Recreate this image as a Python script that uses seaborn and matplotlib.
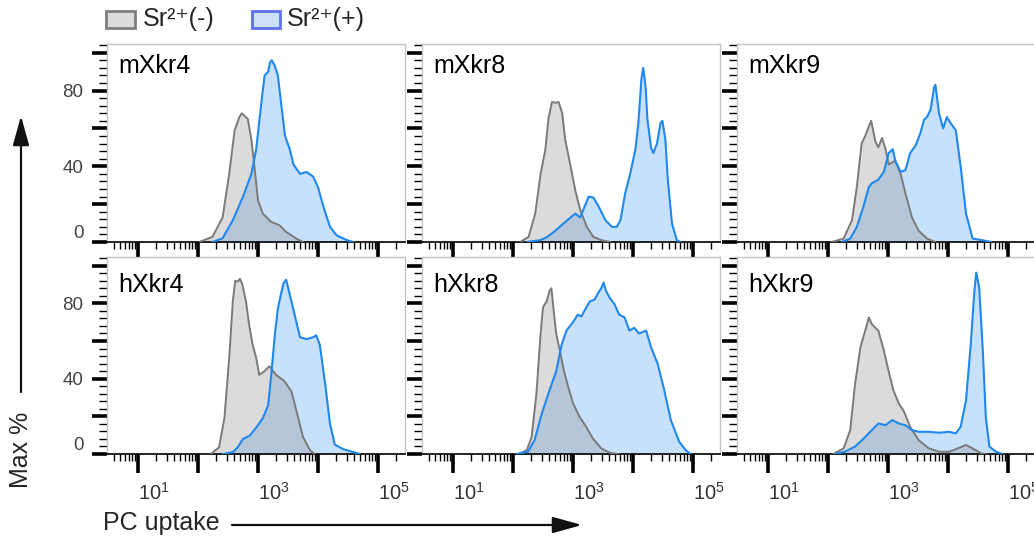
import numpy as np
import matplotlib
matplotlib.use("Agg")
import matplotlib.pyplot as plt
import seaborn as sns
from matplotlib.patches import Rectangle, FancyArrowPatch
from matplotlib.ticker import FixedLocator, LogLocator, MultipleLocator, NullFormatter

# ---------------- data (log10 PC uptake, Max %) ----------------
panel_names = ["mXkr4", "mXkr8", "mXkr9", "hXkr4", "hXkr8", "hXkr9"]
legend_labels = ["Sr\u00b2\u207a(-)", "Sr\u00b2\u207a(+)"]
x_tick_values = [1e1, 1e2, 1e3, 1e4, 1e5]
x_tick_labels = ["$10^{1}$", "", "$10^{3}$", "", "$10^{5}$"]
y_tick_values = [0, 20, 40, 60, 80, 100]
y_tick_labels = ["0", "", "40", "", "80", ""]

mxkr4_neg_lx = [2.02, 2.24, 2.41, 2.52, 2.61, 2.69, 2.73, 2.83, 2.89, 2.94, 3.00, 3.08, 3.22, 3.36, 3.47, 3.64, 3.75]
mxkr4_neg_y = [0, 2.7, 13, 36, 59, 66, 68, 65, 54, 40, 22, 15, 10.6, 8.8, 5.3, 1.8, 0]
mxkr4_pos_lx = [2.24, 2.41, 2.58, 2.75, 2.89, 2.97, 3.05, 3.11, 3.17, 3.20, 3.23, 3.28, 3.33, 3.39, 3.45, 3.53,
                3.59, 3.70, 3.81, 3.92, 4.00, 4.09, 4.20, 4.31, 4.48, 4.59]
mxkr4_pos_y = [0, 2, 11.5, 24, 36, 49, 72, 88, 90, 95, 96, 93, 88, 72, 56, 49, 41, 36, 37, 34.5, 29, 18.6, 8,
               3.5, 1, 0]

mxkr8_neg_lx = [2.12, 2.26, 2.37, 2.46, 2.54, 2.59, 2.65, 2.71, 2.76, 2.82, 2.87, 2.96, 3.04, 3.12, 3.23, 3.34,
                3.48, 3.62]
mxkr8_neg_y = [0, 2.7, 15, 36, 49, 65, 74, 73.5, 74, 68, 54, 40, 27, 17, 8, 2.7, 0.9, 0]
mxkr8_pos_lx = [2.23, 2.46, 2.57, 2.68, 2.84, 2.96, 3.04, 3.12, 3.21, 3.26, 3.34, 3.43, 3.54, 3.65, 3.73, 3.79,
                3.87, 3.96, 4.04, 4.09, 4.14, 4.17, 4.21, 4.24, 4.30, 4.34, 4.40, 4.46, 4.49, 4.54, 4.58, 4.65,
                4.73, 4.79]
mxkr8_pos_y = [0, 1, 2.7, 5.3, 9.7, 13, 15, 13, 20, 24, 23.5, 18.6, 11.5, 8, 8, 11.5, 25.7, 37, 49, 63, 86, 92,
               82, 65, 50, 47, 52, 63, 64, 54, 33, 9.7, 1, 0]

mxkr9_neg_lx = [2.06, 2.26, 2.40, 2.48, 2.56, 2.62, 2.68, 2.72, 2.79, 2.84, 2.90, 2.96, 3.01, 3.07, 3.12, 3.21,
                3.29, 3.40, 3.51, 3.65, 3.79]
mxkr9_neg_y = [0, 1.8, 11.5, 29, 52, 56, 61, 64, 53, 50, 55, 49, 41, 42, 43, 36, 25.7, 13, 6, 1.8, 0]
mxkr9_pos_lx = [2.23, 2.37, 2.48, 2.59, 2.68, 2.73, 2.84, 2.93, 3.01, 3.08, 3.12, 3.21, 3.29, 3.37, 3.46, 3.54,
                3.60, 3.65, 3.71, 3.77, 3.79, 3.85, 3.92, 3.98, 4.04, 4.13, 4.21, 4.30, 4.41, 4.58, 4.72]
mxkr9_pos_y = [0, 1.8, 8, 18.6, 29, 31, 33, 37, 47, 49, 43, 37, 38, 47, 51, 57.5, 64.6, 66, 70, 82, 83, 68, 60,
               66, 63, 59, 40, 15, 1.8, 0.9, 0]

hxkr4_neg_lx = [2.21, 2.35, 2.44, 2.52, 2.58, 2.62, 2.66, 2.70, 2.74, 2.80, 2.85, 2.91, 2.97, 3.02, 3.11, 3.19,
                3.30, 3.44, 3.56, 3.64, 3.75, 3.87, 3.95]
hxkr4_neg_y = [0, 3.5, 19, 51, 81, 92, 91.5, 93, 90, 81, 69, 58, 51, 42, 44, 46.6, 42, 38.7, 33, 23, 9, 1.8, 0]
hxkr4_pos_lx = [2.41, 2.58, 2.66, 2.75, 2.86, 2.97, 3.08, 3.17, 3.22, 3.28, 3.33, 3.39, 3.43, 3.47, 3.53, 3.61,
                3.70, 3.81, 3.92, 3.97, 4.03, 4.12, 4.20, 4.28, 4.42, 4.59, 4.70]
hxkr4_pos_y = [0, 1, 3.5, 8, 9.7, 14, 19, 26, 42, 63, 77, 86, 91, 92.5, 84.5, 74, 62, 61, 62, 63, 58, 37, 16, 5,
               2.6, 1, 0]

hxkr8_neg_lx = [2.09, 2.23, 2.31, 2.39, 2.46, 2.50, 2.56, 2.61, 2.64, 2.69, 2.72, 2.78, 2.85, 2.92, 3.00, 3.11,
                3.22, 3.33, 3.47, 3.61, 3.75]
hxkr8_neg_y = [0, 2, 9, 32, 64, 78, 81, 86.6, 88, 72.5, 64, 55, 44, 35.6, 27, 19.7, 14.4, 8.3, 3, 0.7, 0]
hxkr8_pos_lx = [2.06, 2.25, 2.36, 2.48, 2.61, 2.72, 2.81, 2.89, 3.00, 3.08, 3.14, 3.19, 3.28, 3.36, 3.41, 3.47,
                3.51, 3.55, 3.61, 3.69, 3.77, 3.86, 3.94, 4.02, 4.10, 4.22, 4.30, 4.41, 4.52, 4.63, 4.77, 4.88,
                4.96]
hxkr8_pos_y = [0, 1.2, 7.4, 21.5, 34, 44, 58, 65.5, 70, 74, 73, 76, 81, 82, 85, 88, 91, 86.6, 83, 79.6, 74, 72.5,
               65.5, 67, 64, 65.5, 56.7, 48, 34, 18, 6.5, 2, 0]

hxkr9_neg_lx = [2.09, 2.26, 2.37, 2.45, 2.54, 2.62, 2.68, 2.73, 2.79, 2.84, 2.93, 3.01, 3.09, 3.18, 3.26, 3.37,
                3.51, 3.68, 3.85, 4.02, 4.16, 4.30, 4.41, 4.55, 4.63]
hxkr9_neg_y = [0, 3, 12.7, 37, 56.7, 65.5, 72.5, 69, 67, 65.5, 55, 44, 33.8, 26.8, 23, 14.4, 7.4, 3, 1.2, 1.2, 3,
               4.8, 3, 0.4, 0]
hxkr9_pos_lx = [2.12, 2.28, 2.45, 2.62, 2.73, 2.84, 2.96, 3.07, 3.18, 3.29, 3.40, 3.51, 3.68, 3.85, 4.02, 4.13,
                4.21, 4.30, 4.38, 4.44, 4.47, 4.52, 4.58, 4.63, 4.69, 4.80, 4.91]
hxkr9_pos_y = [0, 1.2, 3.9, 9, 12.7, 16.2, 15.3, 18, 16.2, 15.3, 12.7, 11.8, 11.8, 11.3, 11.8, 10.9, 14.4, 28.5,
               58.5, 86.6, 96.3, 88.4, 55, 19.7, 3.9, 1.2, 0]

curves = {
    "mXkr4": (mxkr4_neg_lx, mxkr4_neg_y, mxkr4_pos_lx, mxkr4_pos_y),
    "mXkr8": (mxkr8_neg_lx, mxkr8_neg_y, mxkr8_pos_lx, mxkr8_pos_y),
    "mXkr9": (mxkr9_neg_lx, mxkr9_neg_y, mxkr9_pos_lx, mxkr9_pos_y),
    "hXkr4": (hxkr4_neg_lx, hxkr4_neg_y, hxkr4_pos_lx, hxkr4_pos_y),
    "hXkr8": (hxkr8_neg_lx, hxkr8_neg_y, hxkr8_pos_lx, hxkr8_pos_y),
    "hXkr9": (hxkr9_neg_lx, hxkr9_neg_y, hxkr9_pos_lx, hxkr9_pos_y),
}

# ---------------- style ----------------
sns.set_style("white")
plt.rcParams["font.family"] = ["Liberation Sans", "DejaVu Sans"]
plt.rcParams["mathtext.fontset"] = "custom"
plt.rcParams["mathtext.rm"] = "Liberation Sans"
plt.rcParams["mathtext.it"] = "Liberation Sans:italic"
plt.rcParams["mathtext.bf"] = "Liberation Sans:bold"

NEG_FILL, NEG_LINE = "#888888", "#7a7a7a"
POS_FILL, POS_LINE = "#64aaf5", "#1f88ee"
FRAME = "#c4c4c4"

W, H = 1034, 538
fig = plt.figure(figsize=(W / 100, H / 100), dpi=100)

col_left = [107, 422, 737]
col_w = 298
rows = [(44, 242), (257, 454)]
xlim = (10 ** 0.483, 10 ** 5.45)

for i, name in enumerate(panel_names):
    r, c = divmod(i, 3)
    top, bot = rows[r]
    ax = fig.add_axes([col_left[c] / W, 1 - bot / H, col_w / W, (bot - top) / H])
    nlx, ny, plx, py = curves[name]
    nx = 10 ** np.array(nlx)
    px = 10 ** np.array(plx)
    ax.set_xscale("log")
    ax.fill_between(px, py, color=POS_FILL, alpha=0.35, lw=0, zorder=1)
    ax.fill_between(nx, ny, color=NEG_FILL, alpha=0.30, lw=0, zorder=2)
    sns.lineplot(x=nx, y=ny, ax=ax, color=NEG_LINE, lw=1.4, estimator=None, sort=False, zorder=3)
    sns.lineplot(x=px, y=py, ax=ax, color=POS_LINE, lw=1.5, estimator=None, sort=False, zorder=4)
    ax.set_xlim(*xlim)
    ax.set_ylim(0, 104.6)
    ax.set_xlabel("")
    ax.set_ylabel("")

    ax.xaxis.set_major_locator(FixedLocator(x_tick_values))
    ax.xaxis.set_minor_locator(LogLocator(base=10, subs=np.arange(2, 10), numticks=100))
    ax.xaxis.set_minor_formatter(NullFormatter())
    ax.yaxis.set_major_locator(FixedLocator(y_tick_values))
    ax.yaxis.set_minor_locator(MultipleLocator(4))

    if r == 1:
        ax.set_xticklabels(x_tick_labels, fontsize=14.5, color="#333333")
        for lab in ax.get_xticklabels():
            lab.set_ha("left")
    else:
        ax.set_xticklabels([""] * len(x_tick_values))
    if c == 0:
        ax.set_yticklabels(y_tick_labels, fontsize=13.5, color="#444444")
        ax.get_yticklabels()[0].set_va("bottom")
    else:
        ax.set_yticklabels([""] * len(y_tick_values))

    ax.tick_params(axis="x", which="major", direction="out", length=14, width=2.6, color="black", pad=6,
                   bottom=True, top=False)
    ax.tick_params(axis="x", which="minor", direction="out", length=5, width=1.0, color="black",
                   bottom=True, top=False)
    ax.tick_params(axis="y", which="major", direction="out", length=11, width=2.6, color="black", pad=6,
                   left=True, right=False)
    ax.tick_params(axis="y", which="minor", direction="out", length=6, width=1.0, color="black",
                   left=True, right=False)

    for side in ["top", "right", "left"]:
        ax.spines[side].set_color(FRAME)
        ax.spines[side].set_linewidth(1.0)
    ax.spines["bottom"].set_color("black")
    ax.spines["bottom"].set_linewidth(1.2)

    ax.text(0.037, 0.95 if r == 0 else 0.92, name, transform=ax.transAxes, fontsize=18,
            ha="left", va="top", color="black")

# ---------------- legend ----------------
fig.patches.append(Rectangle((106 / W, 1 - 28 / H), 29 / W, 17 / H, transform=fig.transFigure,
                             facecolor="#dcdcdc", edgecolor="#7f7f7f", lw=2, figure=fig))
fig.text(143 / W, 1 - 19 / H, legend_labels[0], fontsize=18, ha="left", va="center")
fig.patches.append(Rectangle((252 / W, 1 - 28 / H), 28 / W, 17 / H, transform=fig.transFigure,
                             facecolor="#cce0f8", edgecolor="#5a70f2", lw=2, figure=fig))
fig.text(287 / W, 1 - 19 / H, legend_labels[1], fontsize=18, ha="left", va="center")

# ---------------- axis labels with arrows ----------------
fig.text(21 / W, 1 - 450 / H, "Max %", rotation=90, fontsize=18, ha="center", va="center")
fig.text(103 / W, 1 - 523 / H, "PC uptake", fontsize=18, ha="left", va="center")
fig.patches.append(FancyArrowPatch((21 / W, 1 - 392 / H), (21 / W, 1 - 116 / H), transform=fig.transFigure,
                                   arrowstyle="-|>,head_length=1.8,head_width=0.5", mutation_scale=10,
                                   color="#111111", lw=1.6, shrinkA=0, shrinkB=0, figure=fig))
fig.patches.append(FancyArrowPatch((232 / W, 1 - 525 / H), (582 / W, 1 - 525 / H), transform=fig.transFigure,
                                   arrowstyle="-|>,head_length=1.8,head_width=0.5", mutation_scale=10,
                                   color="#111111", lw=1.6, shrinkA=0, shrinkB=0, figure=fig))

fig.savefig("out.png", dpi=100)
